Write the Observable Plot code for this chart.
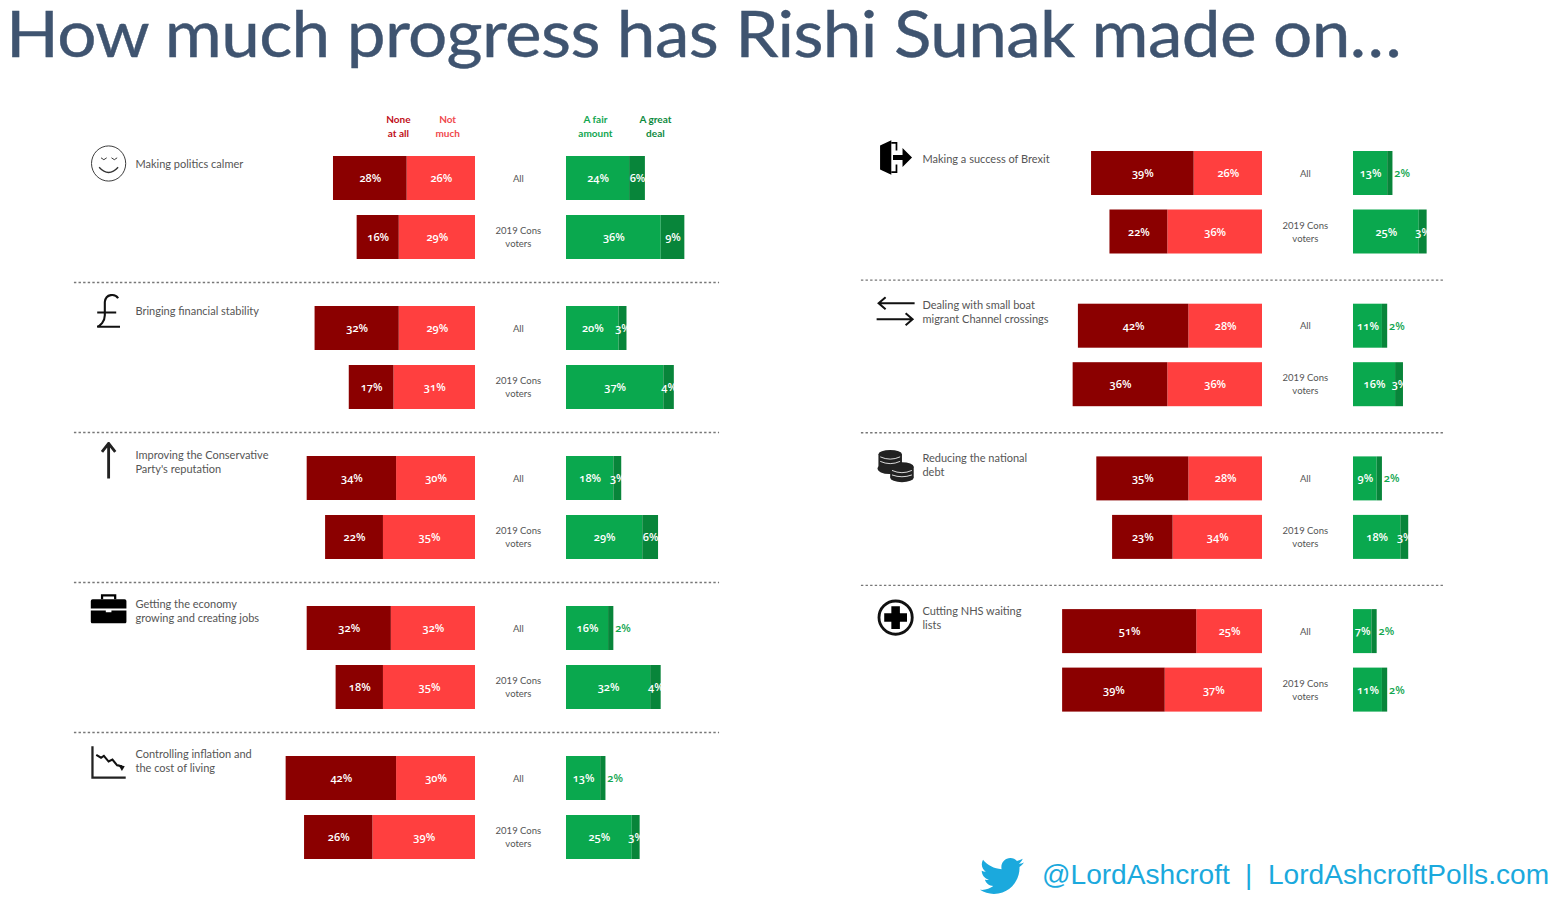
<!DOCTYPE html>
<html>
<head>
<meta charset="utf-8">
<script src="https://cdn.jsdelivr.net/npm/d3@7"></script>
<script src="https://cdn.jsdelivr.net/npm/@observablehq/plot@0.6"></script>
<style>
  html,body{margin:0;padding:0;background:#fff;overflow:hidden;width:1562px;height:914px}
  #title{position:absolute;left:6px;top:0;padding-bottom:8px;font:64px/66px Lato,sans-serif;color:#3f5470;white-space:nowrap;letter-spacing:-.6px;transform:scaleX(1.083);transform-origin:left top;-webkit-text-stroke:.4px #3f5470}
  #charts{position:absolute;left:0;top:100px;display:flex;width:1562px}
  #charts svg{display:block;flex:none}
  #foot{position:absolute;left:0;top:845px;width:1562px;height:69px;font-family:"Liberation Sans",Arial,sans-serif;font-size:28.1px;color:#1ba9dd}
  #foot span{position:absolute;top:14px;white-space:nowrap}
  #foot svg{position:absolute;left:980px;top:11px}
</style>
</head>
<body>
<div id="charts"></div>
<div id="title">How much progress has Rishi Sunak made on…</div>
<div id="foot">
  <svg width="44" height="40" viewBox="0 1.5 24 21"><path fill="#1ba9dd" d="M23.954 4.569c-.885.389-1.83.654-2.825.775 1.014-.611 1.794-1.574 2.163-2.723-.951.555-2.005.959-3.127 1.184-.896-.959-2.173-1.559-3.591-1.559-2.717 0-4.92 2.203-4.92 4.917 0 .39.045.765.127 1.124C7.691 8.094 4.066 6.13 1.64 3.161c-.427.722-.666 1.561-.666 2.475 0 1.71.87 3.213 2.188 4.096-.807-.026-1.566-.248-2.228-.616v.061c0 2.385 1.693 4.374 3.946 4.827-.413.111-.849.171-1.296.171-.314 0-.615-.03-.916-.086.631 1.953 2.445 3.377 4.604 3.417-1.68 1.319-3.809 2.105-6.102 2.105-.39 0-.779-.023-1.17-.067 2.189 1.394 4.768 2.209 7.557 2.209 9.054 0 13.999-7.496 13.999-13.986 0-.209 0-.42-.015-.63.961-.689 1.8-1.56 2.46-2.548l-.047-.02z"/></svg>
  <span style="left:1042px">@LordAshcroft</span>
  <span style="left:1245px">|</span>
  <span style="left:1268px">LordAshcroftPolls.com</span>
</div>
<script>
// ---------- data: [All, 2019 Cons voters] for each topic ----------
const leftTopics = ["Making politics calmer","Bringing financial stability","Improving the Conservative\nParty's reputation","Getting the economy\ngrowing and creating jobs","Controlling inflation and\nthe cost of living"];
const leftNone  = [[28,16],[32,17],[34,22],[32,18],[42,26]];
const leftNot   = [[26,29],[29,31],[30,35],[32,35],[30,39]];
const leftFair  = [[24,36],[20,37],[18,29],[16,32],[13,25]];
const leftGreat = [[6,9],[3,4],[3,6],[2,4],[2,3]];

const rightTopics = ["Making a success of Brexit","Dealing with small boat\nmigrant Channel crossings","Reducing the national\ndebt","Cutting NHS waiting\nlists"];
const rightNone  = [[39,22],[42,36],[35,23],[51,39]];
const rightNot   = [[26,36],[28,36],[28,34],[25,37]];
const rightFair  = [[13,25],[11,16],[9,18],[7,11]];
const rightGreat = [[2,3],[2,3],[2,3],[2,2]];

const groups = ["All","2019 Cons\nvoters"];
const seriesNames = ["None at all","Not much","A fair amount","A great deal"];
const seriesColors = ["#8b0000","#ff3f3f","#0aa84e","#08853a"];
const headers = ["None\nat all","Not\nmuch","A fair\namount","A great\ndeal"];
const headerColors = ["#c0101a","#f0484c","#12a650","#0d8a3e"];

// ---------- layout constants ----------
const PX = 2.63;           // pixels per percentage point
const GAP = 34.6;          // axis gap between the red and green halves, in points
const W = 781, H = 760;
const FONT = "Lato, sans-serif";

const svgUri = (vb, body) => "data:image/svg+xml," + encodeURIComponent(
  `<svg xmlns="http://www.w3.org/2000/svg" viewBox="${vb}">${body}</svg>`);

const icons = {
  smile: svgUri("0 0 40 40", `<g fill="none" stroke="#333" stroke-width="1"><ellipse cx="20" cy="20" rx="18" ry="18.5"/><path d="M10 24q10 11 20 0" stroke-width="1.4"/><path d="M12 14l3 2 3-2M23 14l3 2 3-2" stroke-width="1"/></g>`),
  pound: svgUri("0 0 40 40", `<path fill="none" stroke="#111" stroke-width="2.2" d="M30 6C27 1 17 1 16 10L16 24C16 31 11 35 8 36L32 36M8 21L28 21"/>`),
  arrow: svgUri("0 0 20 40", `<path fill="none" stroke="#222" stroke-width="3" d="M10 39V3M3 11L10 2l7 9"/>`),
  case: svgUri("0 0 40 32", `<path fill="#000" d="M3 6h34a2 2 0 0 1 2 2v8H1V8a2 2 0 0 1 2-2zM1 18h16v2h6v-2h16v12a2 2 0 0 1-2 2H3a2 2 0 0 1-2-2z"/><path fill="none" stroke="#000" stroke-width="2.4" d="M13 6V2h14v4"/>`),
  decline: svgUri("0 0 40 36", `<path fill="none" stroke="#222" stroke-width="2.4" d="M3 1V34H38"/><path fill="none" stroke="#111" stroke-width="2.2" d="M7 10l5 3 3-2 5 6 4-2 5 6 5 1"/><path fill="#111" d="M30 20l7 2-3 5z"/>`),
  brexit: svgUri("0 0 40 44", `<path fill="#000" d="M2 8L15 2V42L2 36z"/><path fill="none" stroke="#000" stroke-width="2" d="M15 5h6v9M15 39h6v-9"/><path fill="#000" d="M17 19h11v-8l11 11-11 11v-8H17z"/>`),
  arrows: svgUri("0 0 40 30", `<path fill="none" stroke="#111" stroke-width="2" d="M39 7H3M10 1L3 7l7 6M1 23H37M30 17l7 6-7 6"/>`),
  coins: svgUri("0 0 42 36", `<g fill="#222"><ellipse cx="15" cy="5" rx="13" ry="4.5"/><rect x="2" y="5" width="26" height="14"/><ellipse cx="14" cy="21" rx="13" ry="6"/><ellipse cx="28" cy="19" rx="13" ry="5"/><rect x="15" y="19" width="26" height="12"/><ellipse cx="28" cy="31" rx="13" ry="5"/></g><g fill="none" stroke="#eee" stroke-width="1"><path d="M4 8q11 5 22 0M4 13q11 5 22 0M17 23q11 5 22 0M17 28q11 4 22 0"/></g>`),
  plus: svgUri("0 0 40 40", `<circle cx="20" cy="20" r="17.5" fill="none" stroke="#111" stroke-width="3"/><path d="M15.5 8h9v7.5H32v9h-7.5V32h-9v-7.5H8v-9h7.5z" fill="#000"/>`)
};

function panel({topics, none, not, fair, great, baseX, period, top, rowStep, barH, rules, ruleEnd, iconList, iconNudge, labelNudge, showHeaders}) {
  const bars = [], rows = [];
  topics.forEach((topic, t) => {
    [0, 1].forEach(r => {
      const y1 = t + r * rowStep, y2 = y1 + barH, ym = (y1 + y2) / 2;
      const a = not[t][r], b = none[t][r], c = fair[t][r], d = great[t][r];
      bars.push({series: seriesNames[1], value: a, x1: 0, x2: -a, y1, y2});
      bars.push({series: seriesNames[0], value: b, x1: -a, x2: -a - b, y1, y2});
      bars.push({series: seriesNames[2], value: c, x1: GAP, x2: GAP + c, y1, y2});
      bars.push({series: seriesNames[3], value: d, x1: GAP + c, x2: GAP + c + d, y1, y2});
      rows.push({group: groups[r], y: ym - 1 / period});
    });
  });
  const inside = bars.filter(d => d.value > 2);
  const outside = bars.filter(d => d.value <= 2);
  const mid = d => (d.x1 + d.x2) / 2;
  const ym = d => (d.y1 + d.y2) / 2;
  const heads = headers.map((h, i) => ({h, color: headerColors[i], x: [-29.3, -10.6, 45.6, 68.4][i]}));
  const labelX = -129.3, iconX = -139.5;
  const iconRows = iconList.map((k, i) => ({k, y: i + iconNudge[i].y / period, w: iconNudge[i].w}));
  const pctFont = {fontSize: 11, fontWeight: 600, fontFamily: "'Open Sans', sans-serif", fontVariant: "oldstyle-nums"};
  return Plot.plot({
    width: W, height: H,
    marginTop: 0, marginRight: 0, marginBottom: 0, marginLeft: 0,
    x: {domain: [-baseX / PX, (W - baseX) / PX], axis: null},
    y: {domain: [-top / period, (H - top) / period], range: [0, H], axis: null},
    color: {domain: seriesNames, range: seriesColors},
    style: {background: "#fff"},
    marks: [
      Plot.ruleY(rules, {y: d => d, x1: -152.5, x2: ruleEnd, stroke: "#777", strokeWidth: 1.3, strokeDasharray: "2.4,2.2"}),
      Plot.rect(bars, {x1: "x1", x2: "x2", y1: "y1", y2: "y2", fill: "series"}),
      Plot.text(inside, {x: mid, y: ym, text: d => d.value + "%", fill: "#fff", ...pctFont}),
      Plot.text(outside, {x: d => d.x2 + 3.5, y: ym, text: d => d.value + "%", fill: "#12a650", ...pctFont}),
      Plot.text(rows, {x: GAP / 2 - 1, y: "y", text: "group", fill: "#555", fontSize: 9.5, lineHeight: 1.38, fontFamily: FONT}),
      Plot.text(topics.map((t, i) => ({t, y: i + labelNudge[i] / period})), {x: labelX, y: "y", text: "t", textAnchor: "start", fill: "#555", fontSize: 11, lineHeight: 1.28, fontFamily: FONT}),
      Plot.image(iconRows.filter(d => d.w === 38), {x: iconX, y: "y", src: d => icons[d.k], width: 38, height: 38}),
      Plot.image(iconRows.filter(d => d.w === 30), {x: iconX, y: "y", src: d => icons[d.k], width: 40, height: 30}),
      showHeaders ? Plot.text(heads, {x: "x", y: -31 / period, text: "h", fill: "color", fontSize: 10, fontWeight: 700, lineHeight: 1.4, fontFamily: FONT}) : null
    ]
  });
}

const host = document.getElementById("charts");
host.append(panel({
  topics: leftTopics, none: leftNone, not: leftNot, fair: leftFair, great: leftGreat,
  baseX: 475, period: 150, top: 56, rowStep: 59 / 150, barH: 44 / 150,
  rules: [0, 1, 2, 3].map(i => i + 0.84), ruleEnd: 92.8,
  iconList: ["smile", "pound", "arrow", "case", "decline"],
  iconNudge: [{y: 7, w: 38}, {y: 5, w: 38}, {y: 4, w: 38}, {y: 2, w: 30}, {y: 6, w: 38}],
  labelNudge: [7, 4, 5, 4, 4],
  showHeaders: true
}));
host.append(panel({
  topics: rightTopics, none: rightNone, not: rightNot, fair: rightFair, great: rightGreat,
  baseX: 481, period: 152.7, top: 51, rowStep: 58.5 / 152.7, barH: 44 / 152.7,
  rules: [0, 1, 2].map(i => i + 0.842), ruleEnd: 69.6,
  iconList: ["brexit", "arrows", "coins", "plus"],
  iconNudge: [{y: 6, w: 38}, {y: 7, w: 30}, {y: 9, w: 38}, {y: 8, w: 38}],
  labelNudge: [7, 7, 8, 8],
  showHeaders: false
}));
</script>
</body>
</html>
